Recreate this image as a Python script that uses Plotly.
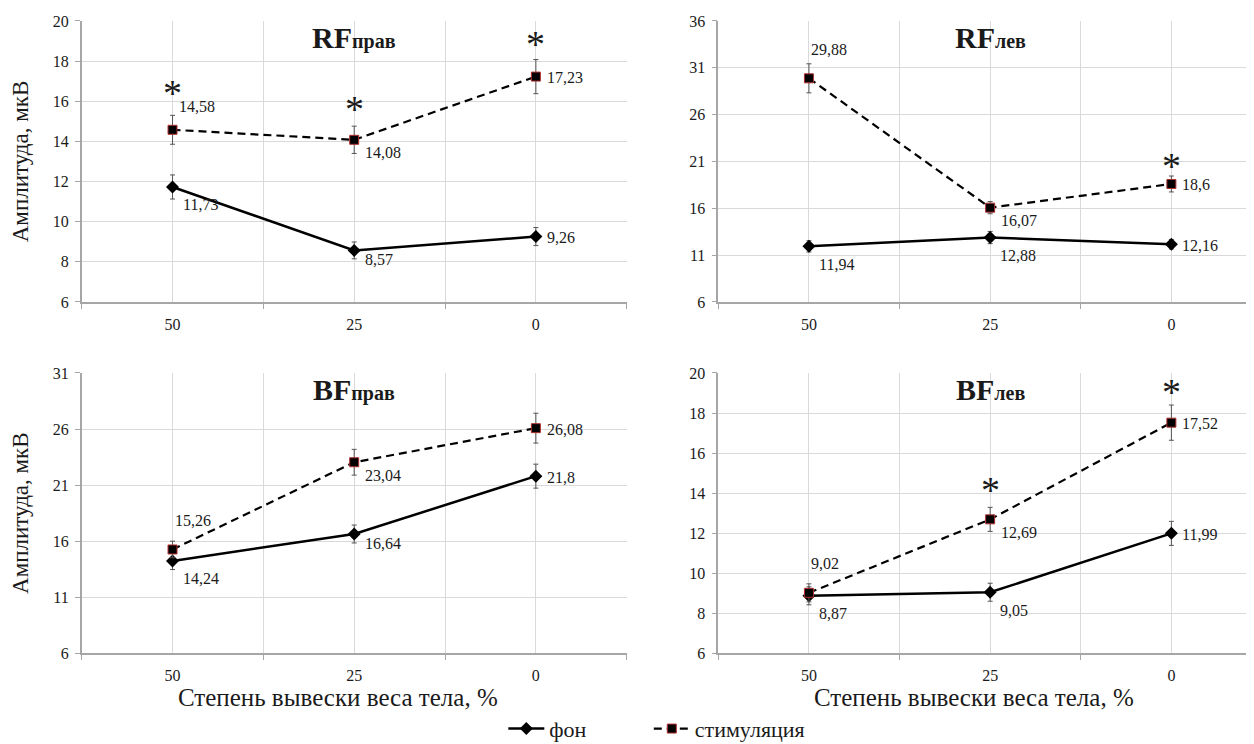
import plotly.graph_objects as go

# ---------------- data ----------------
categories = ["50", "25", "0"]

panel_main = ["RF", "RF", "BF", "BF"]
panel_sub = ["прав", "лев", "прав", "лев"]
x_title = "Степень вывески веса тела, %"
y_title = "Амплитуда, мкВ"

rf_r_fon = [11.73, 8.57, 9.26]
rf_r_fon_err = [0.6, 0.42, 0.45]
rf_r_stim = [14.58, 14.08, 17.23]
rf_r_stim_err = [0.72, 0.68, 0.85]

rf_l_fon = [11.94, 12.88, 12.16]
rf_l_fon_err = [0.6, 0.65, 0.5]
rf_l_stim = [29.88, 16.07, 18.6]
rf_l_stim_err = [1.55, 0.65, 0.85]

bf_r_fon = [14.24, 16.64, 21.8]
bf_r_fon_err = [0.77, 0.8, 1.07]
bf_r_stim = [15.26, 23.04, 26.08]
bf_r_stim_err = [0.74, 1.15, 1.33]

bf_l_fon = [8.87, 9.05, 11.99]
bf_l_fon_err = [0.45, 0.45, 0.6]
bf_l_stim = [9.02, 12.69, 17.52]
bf_l_stim_err = [0.45, 0.6, 0.88]

# label placement codes
rf_r_fon_pos = ["b", "bs", "r"]
rf_r_stim_pos = ["t2", "bm", "r"]
rf_l_fon_pos = ["b", "b", "r"]
rf_l_stim_pos = ["t", "bm", "r"]
bf_r_fon_pos = ["b", "bs", "r"]
bf_r_stim_pos = ["t", "bm", "r"]
bf_l_fon_pos = ["b", "b", "r"]
bf_l_stim_pos = ["t", "bm", "r"]

# significance asterisks (category index, y level)
rf_r_star_idx = [0, 1, 2]
rf_r_star_y = [16.76, 15.97, 19.2]
rf_l_star_idx = [2]
rf_l_star_y = [21.3]
bf_r_star_idx = []
bf_r_star_y = []
bf_l_star_idx = [1, 2]
bf_l_star_y = [14.5, 19.4]

y_ranges = [[6, 20], [6, 36], [6, 31], [6, 20]]
y_dticks = [2, 5, 5, 2]

panels = [
    (rf_r_fon, rf_r_fon_err, rf_r_fon_pos, rf_r_stim, rf_r_stim_err, rf_r_stim_pos, rf_r_star_idx, rf_r_star_y),
    (rf_l_fon, rf_l_fon_err, rf_l_fon_pos, rf_l_stim, rf_l_stim_err, rf_l_stim_pos, rf_l_star_idx, rf_l_star_y),
    (bf_r_fon, bf_r_fon_err, bf_r_fon_pos, bf_r_stim, bf_r_stim_err, bf_r_stim_pos, bf_r_star_idx, bf_r_star_y),
    (bf_l_fon, bf_l_fon_err, bf_l_fon_pos, bf_l_stim, bf_l_stim_err, bf_l_stim_pos, bf_l_star_idx, bf_l_star_y),
]

# ---------------- layout geometry ----------------
W, H = 1254, 744
x_domains = [[0.05877, 0.49338], [0.56643, 1.0]]
y_domains = [[0.60484, 0.98253], [0.13266, 0.50941]]
x_range = [-0.5, 2.5]

SERIF = "Liberation Serif, Times New Roman, serif"
TXT = "#1a1a1a"
GRID = "#d9d9d9"
AXIS = "#a6a6a6"

fig = go.Figure()
xs = list(range(len(categories)))

label_style = {
    "r": dict(xanchor="left", yanchor="middle", xshift=9, yshift=-1),
    "b": dict(xanchor="left", yanchor="middle", xshift=8, yshift=-18),
    "bm": dict(xanchor="left", yanchor="middle", xshift=9, yshift=-13),
    "bs": dict(xanchor="left", yanchor="middle", xshift=9, yshift=-9),
    "t": dict(xanchor="left", yanchor="middle", xshift=0, yshift=29),
    "t2": dict(xanchor="left", yanchor="middle", xshift=4, yshift=23),
}

def fmt(v):
    return f"{v:g}".replace(".", ",")

annotations = []
for i, (fon, fon_err, fon_pos, stim, stim_err, stim_pos, s_idx, s_y) in enumerate(panels):
    n = i + 1
    xa = "x" if n == 1 else f"x{n}"
    ya = "y" if n == 1 else f"y{n}"
    fig.add_trace(go.Scatter(
        x=xs, y=fon, xaxis=xa, yaxis=ya, mode="lines+markers", name="фон",
        legend="legend", legendgroup="fon", showlegend=(n == 1),
        line=dict(color="black", width=2.5),
        marker=dict(symbol="diamond", size=10, color="black"),
        error_y=dict(type="data", array=fon_err, color="#555555", thickness=1, width=2.5),
    ))
    fig.add_trace(go.Scatter(
        x=xs, y=stim, xaxis=xa, yaxis=ya, mode="lines+markers", name="стимуляция",
        legend="legend2", legendgroup="stim", showlegend=(n == 1),
        line=dict(color="black", width=2.2, dash="8px,5px"),
        marker=dict(symbol="square", size=9, color="black",
                    line=dict(color="#b03030", width=1)),
        error_y=dict(type="data", array=stim_err, color="#555555", thickness=1, width=2.5),
    ))
    for vals, poss in ((fon, fon_pos), (stim, stim_pos)):
        for xi, v, p in zip(xs, vals, poss):
            annotations.append(dict(
                x=xi, y=v, xref=xa, yref=ya, text=fmt(v), showarrow=False,
                font=dict(family=SERIF, size=16, color=TXT), **label_style[p]))
    for xi, yv in zip(s_idx, s_y):
        annotations.append(dict(
            x=xs[xi], y=yv, xref=xa, yref=ya, text="*", showarrow=False,
            xanchor="center", yanchor="middle", yshift=-7,
            font=dict(family=SERIF, size=38, color=TXT)))
    # panel title
    annotations.append(dict(
        x=0.5, y=0.94, xref=f"{xa} domain", yref=f"{ya} domain",
        text=f"<b>{panel_main[i]}<span style='font-size:20px'>{panel_sub[i]}</span></b>",
        showarrow=False, xanchor="center", yanchor="middle",
        font=dict(family=SERIF, size=30, color=TXT)))

    row, col = divmod(i, 2)
    if row == 1:
        annotations.append(dict(
            x=0.5, xshift=-16, y=0.0739, xref=f"{xa} domain", yref="paper",
            text=x_title, showarrow=False, xanchor="center", yanchor="middle",
            font=dict(family=SERIF, size=25, color=TXT)))
    xaxis = dict(
        domain=x_domains[col], anchor=ya, range=x_range, automargin=False,
        tickmode="array", tickvals=xs, ticktext=categories,
        showgrid=True, gridcolor=GRID, gridwidth=1,
        ticks="outside", ticklen=7, tickcolor="rgba(0,0,0,0)",
        tickfont=dict(family=SERIF, size=16, color=TXT),
        showline=True, linecolor=AXIS, linewidth=1.5,
        zeroline=False,
        minor=dict(tickmode="array", tickvals=[-0.5, 0.5, 1.5, 2.5],
                   showgrid=True, gridcolor=GRID, gridwidth=1,
                   ticks="outside", ticklen=5, tickcolor=AXIS),
    )
    yaxis = dict(
        domain=y_domains[row], anchor=xa, range=y_ranges[i], dtick=y_dticks[i], tick0=6,
        automargin=False,
        showgrid=True, gridcolor=GRID, gridwidth=1,
        ticks="outside", ticklen=5, tickcolor=AXIS, ticklabelstandoff=3,
        tickfont=dict(family=SERIF, size=16, color=TXT),
        showline=True, linecolor=AXIS, linewidth=1.5, zeroline=False,
    )
    if col == 0:
        yaxis["title"] = dict(text=y_title,
                              font=dict(family=SERIF, size=23, color=TXT), standoff=19)
    fig.layout[f"xaxis{'' if n == 1 else n}"] = xaxis
    fig.layout[f"yaxis{'' if n == 1 else n}"] = yaxis

legend_common = dict(orientation="h", xanchor="left", y=0.003, yanchor="bottom",
                     font=dict(family=SERIF, size=22, color=TXT),
                     itemwidth=36, bgcolor="rgba(0,0,0,0)")

fig.update_layout(
    width=W, height=H,
    margin=dict(l=0, r=0, t=0, b=0, autoexpand=False),
    paper_bgcolor="white", plot_bgcolor="white",
    annotations=annotations,
    legend=dict(x=0.395, **legend_common),
    legend2=dict(x=0.511, **legend_common),
    showlegend=True,
)

fig.write_html("out.html")
